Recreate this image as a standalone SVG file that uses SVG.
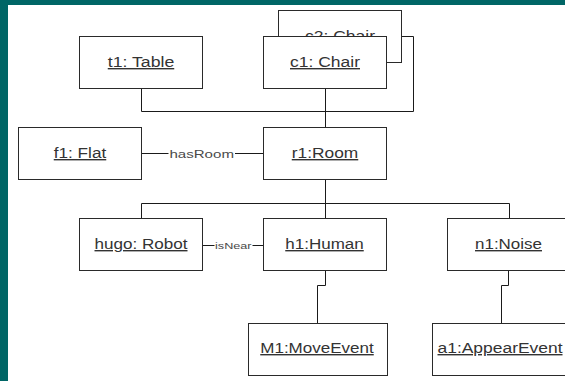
<svg xmlns="http://www.w3.org/2000/svg" width="565" height="381" viewBox="0 0 565 381">
  <style>
    .obj rect { fill: #ffffff; stroke: #2a2a2a; stroke-width: 1; }
    .obj text { font-family: "Liberation Sans", Arial, sans-serif; font-size: 14px; fill: #333333; text-anchor: middle; text-decoration: underline; }
    .conn path { fill: none; stroke: #1a1a1a; stroke-width: 1; }
    .lbl { font-family: "Liberation Sans", Arial, sans-serif; fill: #4a4a4a; text-anchor: middle; }
  </style>
  <!-- page frame -->
  <rect x="0" y="0" width="565" height="381" fill="#006666"/>
  <rect x="8" y="5" width="557" height="376" fill="#ffffff"/>

  <!-- connectors -->
  <g id="connectors" class="conn">
    <path d="M386.5 36.5 H413.5 V111.5 H141.5 V88.5"/>
    <path d="M325.5 88.5 V127.5"/>
    <path d="M141.5 153.5 H168.5 M235 153.5 H263.5"/>
    <path d="M325.5 179.5 V218.5 M141.5 218.5 V203.5 H509.5 V218.5"/>
    <path d="M202.5 245.5 H214.5 M252.5 245.5 H263.5"/>
    <path d="M325.5 270.5 V285.5 H317.5 V323.5"/>
    <path d="M508.5 270.5 V285.5 H501.5 V323.5"/>
    <text class="lbl" x="201.7" y="158" font-size="11.5" textLength="64.5" lengthAdjust="spacingAndGlyphs">hasRoom</text>
    <text class="lbl" x="233.3" y="248.5" font-size="9.5" textLength="36.5" lengthAdjust="spacingAndGlyphs">isNear</text>
  </g>

  <!-- objects -->
  <g id="t1" class="obj">
    <rect x="79.5" y="36.5" width="123" height="52"/>
    <text x="141" y="67" textLength="66.5" lengthAdjust="spacingAndGlyphs">t1: Table</text>
  </g>
  <g id="c2" class="obj">
    <rect x="278.5" y="10.5" width="123" height="52"/>
    <text x="340" y="41" textLength="70" lengthAdjust="spacingAndGlyphs">c2: Chair</text>
  </g>
  <g id="c1" class="obj">
    <rect x="263.5" y="36.5" width="123" height="52"/>
    <text x="325" y="67" textLength="70" lengthAdjust="spacingAndGlyphs">c1: Chair</text>
  </g>
  <g id="f1" class="obj">
    <rect x="18.5" y="127.5" width="123" height="52"/>
    <text x="80" y="158" textLength="52.5" lengthAdjust="spacingAndGlyphs">f1: Flat</text>
  </g>
  <g id="r1" class="obj">
    <rect x="263.5" y="127.5" width="123" height="52"/>
    <text x="325" y="158" textLength="66.5" lengthAdjust="spacingAndGlyphs">r1:Room</text>
  </g>
  <g id="hugo" class="obj">
    <rect x="79.5" y="218.5" width="123" height="52"/>
    <text x="141" y="249" textLength="93" lengthAdjust="spacingAndGlyphs">hugo: Robot</text>
  </g>
  <g id="h1" class="obj">
    <rect x="263.5" y="218.5" width="123" height="52"/>
    <text x="324.5" y="249" textLength="78.5" lengthAdjust="spacingAndGlyphs">h1:Human</text>
  </g>
  <g id="n1" class="obj">
    <rect x="447.5" y="218.5" width="123" height="52"/>
    <text x="508.5" y="249" textLength="67" lengthAdjust="spacingAndGlyphs">n1:Noise</text>
  </g>
  <g id="M1" class="obj">
    <rect x="248.5" y="323.5" width="139" height="52"/>
    <text x="317" y="353" textLength="113.5" lengthAdjust="spacingAndGlyphs">M1:MoveEvent</text>
  </g>
  <g id="a1" class="obj">
    <rect x="432.5" y="323.5" width="139" height="52"/>
    <text x="500" y="353" textLength="125" lengthAdjust="spacingAndGlyphs">a1:AppearEvent</text>
  </g>
</svg>
